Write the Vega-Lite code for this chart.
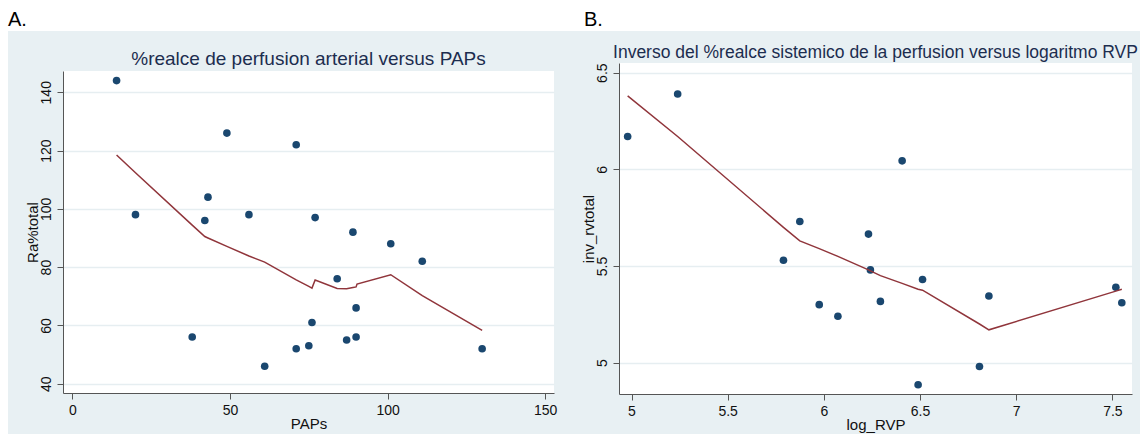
{
  "$schema": "https://vega.github.io/schema/vega-lite/v6.json",
  "background": "#e8f0f3",
  "padding": 0,
  "spacing": 0,
  "config": {
    "font": "Liberation Sans",
    "view": {"stroke": null},
    "axis": {
      "domainColor": "#555555",
      "tickColor": "#555555",
      "labelColor": "#111111",
      "titleColor": "#111111",
      "labelFont": "Liberation Sans",
      "titleFont": "Liberation Sans",
      "labelFontSize": 14,
      "titleFontSize": 15,
      "titleFontWeight": "normal",
      "gridColor": "#e6eef1",
      "gridWidth": 1.5,
      "tickSize": 6,
      "labelPadding": 4,
      "titlePadding": -1
    },
    "title": {"font": "Liberation Sans", "fontWeight": "normal", "color": "#1c2d4f", "frame": "group", "anchor": "middle"}
  },
  "datasets": {
    "a_pts": [
      {"PAPs": 14, "ra_total": 144}, {"PAPs": 20, "ra_total": 98}, {"PAPs": 38, "ra_total": 56},
      {"PAPs": 42, "ra_total": 96}, {"PAPs": 43, "ra_total": 104}, {"PAPs": 49, "ra_total": 126},
      {"PAPs": 56, "ra_total": 98}, {"PAPs": 61, "ra_total": 46}, {"PAPs": 71, "ra_total": 122},
      {"PAPs": 71, "ra_total": 52}, {"PAPs": 75, "ra_total": 53}, {"PAPs": 76, "ra_total": 61},
      {"PAPs": 77, "ra_total": 97}, {"PAPs": 84, "ra_total": 76}, {"PAPs": 87, "ra_total": 55},
      {"PAPs": 89, "ra_total": 92}, {"PAPs": 90, "ra_total": 66}, {"PAPs": 90, "ra_total": 56},
      {"PAPs": 101, "ra_total": 88}, {"PAPs": 111, "ra_total": 82}, {"PAPs": 130, "ra_total": 52}
    ],
    "a_fit": [
      {"PAPs": 14, "fit": 118.5}, {"PAPs": 20, "fit": 112.4}, {"PAPs": 38, "fit": 94.4},
      {"PAPs": 42, "fit": 90.5}, {"PAPs": 43, "fit": 90.0}, {"PAPs": 49, "fit": 87.1},
      {"PAPs": 56, "fit": 83.8}, {"PAPs": 61, "fit": 81.7}, {"PAPs": 71, "fit": 75.6},
      {"PAPs": 75, "fit": 73.4}, {"PAPs": 76, "fit": 72.8}, {"PAPs": 77, "fit": 75.6},
      {"PAPs": 84, "fit": 72.7}, {"PAPs": 87, "fit": 72.6}, {"PAPs": 89, "fit": 73.0},
      {"PAPs": 90, "fit": 73.2}, {"PAPs": 90.3, "fit": 74.2}, {"PAPs": 101, "fit": 77.4},
      {"PAPs": 111, "fit": 70.2}, {"PAPs": 130, "fit": 58.3}
    ],
    "b_pts": [
      {"log_RVP": 4.98, "inv_rvtotal": 6.17}, {"log_RVP": 5.24, "inv_rvtotal": 6.39},
      {"log_RVP": 5.79, "inv_rvtotal": 5.53}, {"log_RVP": 5.875, "inv_rvtotal": 5.73},
      {"log_RVP": 5.976, "inv_rvtotal": 5.30}, {"log_RVP": 6.073, "inv_rvtotal": 5.24},
      {"log_RVP": 6.232, "inv_rvtotal": 5.665}, {"log_RVP": 6.242, "inv_rvtotal": 5.48},
      {"log_RVP": 6.294, "inv_rvtotal": 5.317}, {"log_RVP": 6.407, "inv_rvtotal": 6.044},
      {"log_RVP": 6.49, "inv_rvtotal": 4.886}, {"log_RVP": 6.513, "inv_rvtotal": 5.43},
      {"log_RVP": 6.809, "inv_rvtotal": 4.98}, {"log_RVP": 6.858, "inv_rvtotal": 5.345},
      {"log_RVP": 7.518, "inv_rvtotal": 5.39}, {"log_RVP": 7.549, "inv_rvtotal": 5.31}
    ],
    "b_fit": [
      {"log_RVP": 4.98, "fit": 6.38}, {"log_RVP": 5.24, "fit": 6.17}, {"log_RVP": 5.79, "fit": 5.70},
      {"log_RVP": 5.875, "fit": 5.63}, {"log_RVP": 5.976, "fit": 5.59}, {"log_RVP": 6.073, "fit": 5.55},
      {"log_RVP": 6.232, "fit": 5.48}, {"log_RVP": 6.242, "fit": 5.475}, {"log_RVP": 6.294, "fit": 5.45},
      {"log_RVP": 6.407, "fit": 5.41}, {"log_RVP": 6.49, "fit": 5.38}, {"log_RVP": 6.513, "fit": 5.375},
      {"log_RVP": 6.809, "fit": 5.20}, {"log_RVP": 6.858, "fit": 5.17}, {"log_RVP": 7.518, "fit": 5.37},
      {"log_RVP": 7.549, "fit": 5.38}
    ],
    "empty": []
  },
  "vconcat": [
    {
      "width": 1140,
      "height": 31,
      "view": {"fill": "white", "stroke": null},
      "data": {"values": [{"label": "A.", "panel": "A"}, {"label": "B.", "panel": "B"}]},
      "mark": {"type": "text", "align": "left", "baseline": "alphabetic", "fontSize": 20, "dx": 8, "dy": 10.5, "color": "#000000"},
      "encoding": {
        "x": {"field": "panel", "type": "nominal", "axis": null,
              "scale": {"type": "point", "range": [0, 576], "padding": 0}},
        "text": {"field": "label"}
      }
    },
    {
      "spacing": 0,
      "hconcat": [
        {
          "width": 8,
          "height": 403,
          "view": {"fill": "white", "stroke": null},
          "data": {"name": "empty"},
          "mark": "point"
        },
        {
          "width": 16,
          "height": 10,
          "view": {"stroke": null},
          "data": {"name": "empty"},
          "mark": "point"
        },
        {
          "spacing": 24,
          "hconcat": [
            {
              "spacing": 18,
              "vconcat": [
                {
                  "width": 1,
                  "height": 1,
                  "view": {"stroke": null},
                  "data": {"name": "empty"},
                  "mark": "point"
                },
                {
                  "width": 491,
                  "height": 322,
                  "view": {"fill": "white", "stroke": null},
                  "title": {
                    "text": "%realce de perfusion arterial versus PAPs",
                    "fontSize": 19,
                    "offset": 2
                  },
                  "layer": [
                    {
                      "data": {"name": "a_pts"},
                      "mark": {"type": "circle", "size": 58, "color": "#1a476f", "opacity": 1},
                      "encoding": {
                        "x": {"field": "PAPs", "type": "quantitative",
                              "scale": {"domain": [-3, 152.8], "nice": false, "zero": false},
                              "axis": {"values": [0, 50, 100, 150], "title": "PAPs", "grid": false}},
                        "y": {"field": "ra_total", "type": "quantitative",
                              "scale": {"domain": [36.8, 147.3], "nice": false, "zero": false},
                              "axis": {"values": [40, 60, 80, 100, 120, 140], "title": "Ra%total", "labelAngle": -90, "grid": true}}
                      }
                    },
                    {
                      "data": {"name": "a_fit"},
                      "mark": {"type": "line", "color": "#90353b", "strokeWidth": 1.5},
                      "encoding": {
                        "x": {"field": "PAPs", "type": "quantitative"},
                        "y": {"field": "fit", "type": "quantitative"}
                      }
                    }
                  ]
                }
              ]
            },
            {
              "spacing": 11,
              "vconcat": [
                {
                  "width": 1,
                  "height": 1,
                  "view": {"stroke": null},
                  "data": {"name": "empty"},
                  "mark": "point"
                },
                {
                  "width": 513,
                  "height": 331,
                  "view": {"fill": "white", "stroke": null},
                  "title": {
                    "text": "Inverso del %realce sistemico de la perfusion versus logaritmo RVP",
                    "fontSize": 17.5,
                    "offset": 1.5
                  },
                  "layer": [
                    {
                      "data": {"name": "b_pts"},
                      "mark": {"type": "circle", "size": 58, "color": "#1a476f", "opacity": 1},
                      "encoding": {
                        "x": {"field": "log_RVP", "type": "quantitative",
                              "scale": {"domain": [4.935, 7.602], "nice": false, "zero": false},
                              "axis": {"values": [5, 5.5, 6, 6.5, 7, 7.5], "format": "~g", "title": "log_RVP", "grid": false}},
                        "y": {"field": "inv_rvtotal", "type": "quantitative",
                              "scale": {"domain": [4.838, 6.55], "nice": false, "zero": false},
                              "axis": {"values": [5, 5.5, 6, 6.5], "format": "~g", "title": "inv_rvtotal", "labelAngle": -90, "grid": true}}
                      }
                    },
                    {
                      "data": {"name": "b_fit"},
                      "mark": {"type": "line", "color": "#90353b", "strokeWidth": 1.5},
                      "encoding": {
                        "x": {"field": "log_RVP", "type": "quantitative"},
                        "y": {"field": "fit", "type": "quantitative"}
                      }
                    }
                  ]
                }
              ]
            }
          ]
        }
      ]
    }
  ]
}
